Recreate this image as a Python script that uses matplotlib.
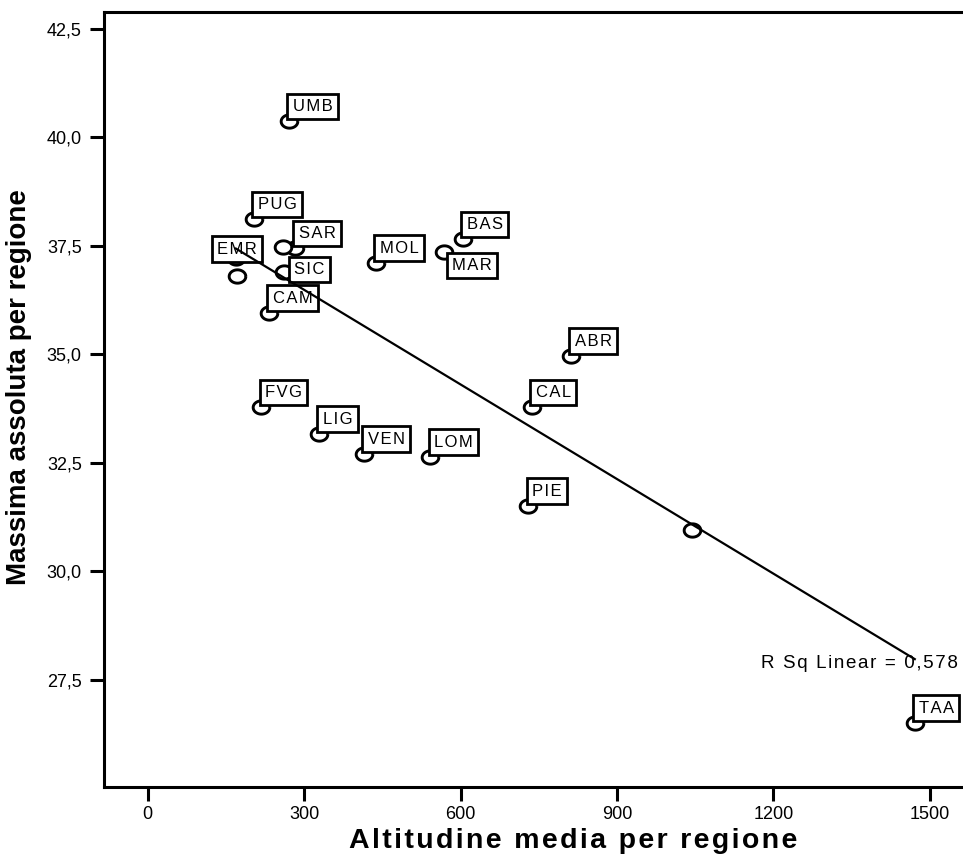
import numpy as np
import matplotlib
matplotlib.use("Agg")
import matplotlib.pyplot as plt
from matplotlib.path import Path

plt.rcParams['font.family'] = ['Liberation Sans', 'DejaVu Sans']

# data (altitude m, max temperature C)
regions = ['UMB', 'PUG', 'SAR', 'TOS', 'LAZ', 'EMR', 'SIC', 'CAM', 'MOL', 'BAS',
           'MAR', 'ABR', 'CAL', 'PIE', 'VDA', 'TAA', 'FVG', 'LIG', 'VEN', 'LOM']
altitude = [270, 203, 282, 259, 169, 171, 261, 232, 437, 604,
            568, 811, 736, 729, 1043, 1471, 217, 328, 414, 541]
max_temp = [40.38, 38.12, 37.45, 37.48, 37.22, 36.81, 36.90, 35.96, 37.11, 37.66,
            37.36, 34.97, 33.79, 31.51, 30.96, 26.51, 33.79, 33.17, 32.71, 32.64]
shown = ['UMB', 'PUG', 'SAR', 'EMR', 'SIC', 'CAM', 'MOL', 'BAS', 'MAR', 'ABR',
         'CAL', 'PIE', 'TAA', 'FVG', 'LIG', 'VEN', 'LOM']
r2_text = 'R Sq Linear = 0,578'
xticks = [0, 300, 600, 900, 1200, 1500]
yticks = [27.5, 30.0, 32.5, 35.0, 37.5, 40.0, 42.5]


def spaced(s):
    # mimic the loose letter spacing of the original rendering
    return '\u200a'.join(s)


x = np.array(altitude, dtype=float)
y = np.array(max_temp)

fig = plt.figure(figsize=(9.63, 8.59), dpi=100)
ax = fig.add_axes([104/963, 1 - 787/859, 938/963, 775/859])
ax.set_xlim(-84, 1715)
ax.set_ylim(25.03, 42.89)

# fit line, drawn over points and labels like the original
b, a = np.polyfit(x, y, 1)
xl = np.array([x.min(), x.max()])
ax.plot(xl, a + b * xl, color='black', lw=1.6, zorder=6)

# slightly flattened open circles
t = np.linspace(0, 2 * np.pi, 40)
ell = Path(np.column_stack([np.cos(t), 0.8 * np.sin(t)]))
ax.plot(x, y, linestyle='none', marker=ell, markersize=12, markerfacecolor='white',
        markeredgecolor='black', markeredgewidth=2.1, zorder=3)

# label placement (pixel offsets from point to box anchor)
place = {'SIC': (10, -5, 'left', 'bottom'),
         'MAR': (8, -6, 'left', 'top'),
         'EMR': (0, 19, 'center', 'bottom')}
for name in shown:
    i = regions.index(name)
    dx, dy, ha, va = place.get(name, (4, 7, 'left', 'bottom'))
    ax.annotate(spaced(name), (x[i], y[i]), xytext=(dx * 0.72, dy * 0.72),
                textcoords='offset points', ha=ha, va=va, fontsize=12,
                bbox=dict(boxstyle='square,pad=0.32', fc='white', ec='black', lw=2.0),
                zorder=4, annotation_clip=False)

ax.text(958 / 963, 1 - 663 / 859, spaced(r2_text), transform=fig.transFigure,
        ha='right', va='center', fontsize=13.5)

for s in ['left', 'top', 'bottom']:
    ax.spines[s].set_linewidth(2.2)
ax.spines['right'].set_visible(False)

ax.set_xticks(xticks)
ax.set_xticklabels([str(v) for v in xticks])
ax.set_yticks(yticks)
ax.set_yticklabels([('%.1f' % v).replace('.', ',') for v in yticks])
ax.tick_params(length=10, width=2.2, labelsize=13)
ax.tick_params(axis='x', pad=4)
ax.tick_params(axis='y', pad=6)

ax.set_xlabel(spaced('Altitudine media per regione'), fontsize=20.5, fontweight='bold',
              labelpad=3)
ax.set_ylabel('Massima assoluta per regione', fontsize=20, fontweight='bold')
ax.yaxis.set_label_coords(-72 / 938, (787 - 387) / 775)

fig.savefig('out.png', dpi=100)
